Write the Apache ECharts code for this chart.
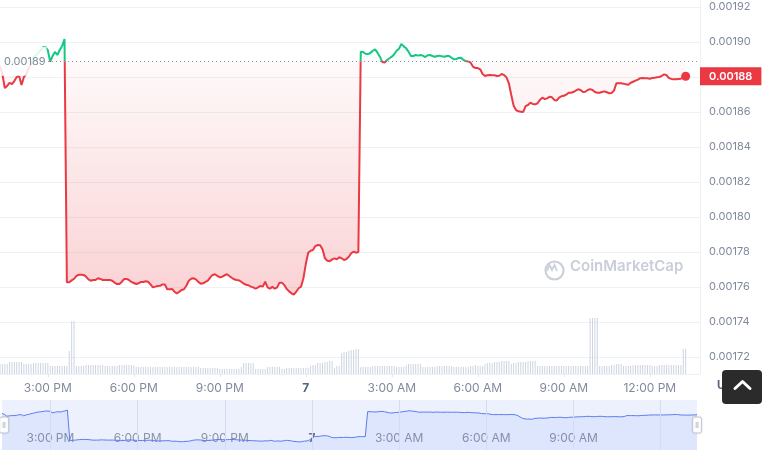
<!DOCTYPE html>
<html><head><meta charset="utf-8">
<script src="https://cdn.jsdelivr.net/npm/echarts@6/dist/echarts.min.js"></script>
<style>html,body{margin:0;padding:0;background:#fff}#c{width:762px;height:450px}</style>
</head><body><div id="c"></div>
<script>
// ---- data ----
const START = new Date(2023, 5, 6, 13, 20).getTime();   // first 5-minute sample
const STEP_MS = 5 * 60 * 1000;
const AXIS_END = new Date(2023, 5, 7, 13, 45).getTime(); // right end of main time axis
const OPEN_PRICE = 0.001889;                             // reference (dotted) price
const priceTicks = { min: 0.00172, max: 0.00192, step: 0.00002 };
// time-axis ticks: [day of month, hour]
const timeTicks = [[6, 15], [6, 18], [6, 21], [7, 0], [7, 3], [7, 6], [7, 9], [7, 12]];

const prices = [
0.0018863,0.0018817,0.0018737,0.0018749,0.0018766,0.0018760,0.0018777,0.0018800,0.0018806,0.0018754,0.0018800,0.0018817,
0.0018851,0.0018874,0.0018909,0.0018926,0.0018937,0.0018954,0.0018971,0.0018971,0.0018954,0.0018888,0.0018920,0.0018943,
0.0018926,0.0018954,0.0018977,0.0019017,0.0017627,0.0017627,0.0017638,0.0017647,0.0017663,0.0017670,0.0017670,0.0017669,
0.0017659,0.0017644,0.0017636,0.0017640,0.0017640,0.0017650,0.0017646,0.0017640,0.0017640,0.0017640,0.0017640,0.0017636,
0.0017625,0.0017617,0.0017617,0.0017630,0.0017646,0.0017646,0.0017640,0.0017629,0.0017623,0.0017617,0.0017621,0.0017629,
0.0017629,0.0017633,0.0017630,0.0017615,0.0017598,0.0017602,0.0017606,0.0017607,0.0017615,0.0017615,0.0017587,0.0017587,
0.0017589,0.0017573,0.0017564,0.0017572,0.0017583,0.0017587,0.0017607,0.0017636,0.0017647,0.0017650,0.0017644,0.0017629,
0.0017619,0.0017621,0.0017629,0.0017636,0.0017655,0.0017669,0.0017673,0.0017663,0.0017655,0.0017659,0.0017667,0.0017673,
0.0017663,0.0017653,0.0017644,0.0017640,0.0017638,0.0017630,0.0017619,0.0017613,0.0017610,0.0017602,0.0017598,0.0017590,
0.0017598,0.0017606,0.0017602,0.0017630,0.0017598,0.0017590,0.0017602,0.0017590,0.0017598,0.0017625,0.0017625,0.0017611,
0.0017589,0.0017575,0.0017564,0.0017556,0.0017573,0.0017593,0.0017602,0.0017650,0.0017731,0.0017796,0.0017807,0.0017811,
0.0017834,0.0017840,0.0017838,0.0017815,0.0017764,0.0017750,0.0017747,0.0017758,0.0017764,0.0017758,0.0017770,0.0017764,
0.0017754,0.0017760,0.0017773,0.0017793,0.0017802,0.0017796,0.0017800,0.0018945,0.0018943,0.0018933,0.0018931,0.0018937,
0.0018950,0.0018958,0.0018939,0.0018916,0.0018886,0.0018883,0.0018897,0.0018907,0.0018916,0.0018930,0.0018950,0.0018962,
0.0018989,0.0018975,0.0018964,0.0018945,0.0018920,0.0018920,0.0018926,0.0018922,0.0018926,0.0018922,0.0018914,0.0018924,
0.0018926,0.0018920,0.0018916,0.0018920,0.0018922,0.0018918,0.0018916,0.0018920,0.0018920,0.0018910,0.0018901,0.0018903,
0.0018909,0.0018910,0.0018897,0.0018892,0.0018889,0.0018882,0.0018859,0.0018851,0.0018851,0.0018844,0.0018817,0.0018806,
0.0018810,0.0018811,0.0018810,0.0018810,0.0018806,0.0018807,0.0018817,0.0018811,0.0018798,0.0018764,0.0018697,0.0018636,
0.0018611,0.0018604,0.0018602,0.0018600,0.0018634,0.0018640,0.0018653,0.0018646,0.0018644,0.0018650,0.0018669,0.0018682,
0.0018674,0.0018678,0.0018687,0.0018684,0.0018669,0.0018665,0.0018682,0.0018690,0.0018693,0.0018699,0.0018710,0.0018710,
0.0018714,0.0018722,0.0018730,0.0018726,0.0018714,0.0018716,0.0018726,0.0018731,0.0018726,0.0018714,0.0018710,0.0018710,
0.0018714,0.0018718,0.0018713,0.0018707,0.0018709,0.0018722,0.0018764,0.0018764,0.0018764,0.0018762,0.0018758,0.0018756,
0.0018767,0.0018773,0.0018779,0.0018785,0.0018793,0.0018794,0.0018793,0.0018793,0.0018790,0.0018794,0.0018796,0.0018798,
0.0018800,0.0018807,0.0018815,0.0018810,0.0018794,0.0018789,0.0018787,0.0018787,0.0018789,0.0018790,0.0018798,0.0018804
];

// volume per 5-minute bar (relative units)
const volumes = [
10,10,10,10,12,12,12,12,12,12,10,10,
10,10,11,11,11,11,11,11,11,8,8,8,
8,8,8,8,8,23,53,53,8,8,8,8,
9,9,9,9,9,9,9,9,8,8,8,8,
8,8,9,9,9,9,9,9,9,7,7,7,
7,7,7,7,7,7,7,7,7,7,7,7,
7,7,7,7,7,7,7,7,7,7,7,7,
6,6,6,6,6,6,6,6,5,5,5,5,
5,5,5,5,5,7,11,11,11,11,11,5,
5,5,5,5,7,7,7,7,7,7,5,5,
6,6,6,6,6,6,6,6,6,6,8,9,
9,11,11,11,12,12,13,13,6,8,8,21,
22,22,23,24,24,25,25,7,7,7,7,7,
8,8,8,8,8,8,8,8,8,8,7,7,
7,7,9,10,10,10,10,10,10,7,7,7,
7,7,7,8,8,8,8,8,8,8,7,7,
7,7,7,7,7,8,8,9,8,8,8,10,
11,11,11,12,12,12,13,13,13,13,10,11,
11,12,12,12,12,13,13,13,13,8,8,8,
8,8,8,8,8,8,8,8,8,8,8,8,
8,8,8,8,8,8,8,56,56,56,56,8,
8,8,8,8,9,9,10,10,10,8,8,8,
8,9,9,9,9,9,9,9,9,8,8,8,
9,9,9,9,9,9,9,9,9,9,25,25
];

// ---- build ----
const GREEN = '#16c784', RED = '#ea3943', LABEL = '#808a9d', GRIDC = '#eff2f5';
const times = prices.map((_, i) => START + i * STEP_MS);
const priceData = prices.map((p, i) => [times[i], p]);
const volData = volumes.map((v, i) => [times[i], v]);
const lastT = times[times.length - 1];
const lastP = prices[prices.length - 1];
const maxP = Math.max(...prices), minP = Math.min(...prices);
const baseFrac = (maxP - OPEN_PRICE) / (maxP - minP);
const tickValues = timeTicks.map(([d, h]) => new Date(2023, 5, d, h, 0).getTime());
const navLabelValues = tickValues.filter(t => lastT - t > 2 * 3600 * 1000);

function fmtTime(v) {
  const d = new Date(v); const h = d.getHours(), m = d.getMinutes();
  if (h === 0 && m === 0) return '{day|' + d.getDate() + '}';
  const h12 = h % 12 === 0 ? 12 : h % 12;
  return h12 + ':' + String(m).padStart(2, '0') + ' ' + (h < 12 ? 'AM' : 'PM');
}

const chart = echarts.init(document.getElementById('c'), null, { renderer: 'canvas' });
chart.setOption({
  animation: false,
  textStyle: { fontFamily: 'Inter, "Noto Sans", sans-serif' },
  grid: [
    { left: 0, right: 62, top: 7, height: 350 },
    { left: 0, right: 62, top: 0, height: 374 },
    { left: 2, right: 65, top: 400, height: 50, show: true, backgroundColor: '#edf1fd', borderWidth: 0 }
  ],
  xAxis: [
    { gridIndex: 0, type: 'value', min: START, max: AXIS_END, show: false },
    { gridIndex: 1, type: 'value', min: START, max: AXIS_END,
      axisLine: { lineStyle: { color: GRIDC } },
      axisTick: { show: true, length: 3, customValues: tickValues, lineStyle: { color: '#e3e6ec' } },
      splitLine: { show: false },
      axisLabel: { color: LABEL, fontSize: 12, margin: 8, formatter: fmtTime, customValues: tickValues,
        rich: { day: { fontWeight: 700, color: '#58667e', fontSize: 12 } } } },
    { gridIndex: 2, type: 'value', min: START, max: lastT,
      axisLine: { show: false }, axisTick: { show: false }, splitLine: { show: false },
      axisLabel: { inside: true, margin: 6, color: '#8b93a7', fontSize: 12, customValues: navLabelValues,
        formatter: fmtTime, rich: { day: { fontWeight: 700, color: '#6b7488', fontSize: 12 } } } }
  ],
  yAxis: [
    { gridIndex: 0, type: 'value', position: 'right', min: priceTicks.min, max: priceTicks.max, interval: priceTicks.step,
      axisLine: { show: false }, axisTick: { show: false },
      splitLine: { lineStyle: { color: GRIDC } },
      axisLabel: { color: LABEL, fontSize: 11, margin: 9, formatter: v => v.toFixed(5) } },
    { gridIndex: 1, type: 'value', position: 'right', min: 0, max: 374,
      axisLine: { show: true, lineStyle: { color: GRIDC } }, axisTick: { show: false },
      axisLabel: { show: false }, splitLine: { show: false } },
    { gridIndex: 2, type: 'value', min: 0.0017185, max: 0.0019479, show: false }
  ],
  visualMap: {
    type: 'piecewise', show: false, seriesIndex: 0, dimension: 1,
    pieces: [{ gt: OPEN_PRICE, lte: 0.01, color: GREEN }, { gte: 0, lte: OPEN_PRICE, color: RED }]
  },
  dataZoom: [{
    type: 'slider', xAxisIndex: 2, filterMode: 'none', start: 0, end: 100,
    left: 2, right: 65, top: 400, height: 50,
    backgroundColor: 'transparent', borderColor: 'transparent', fillerColor: 'transparent',
    showDetail: false, showDataShadow: false, brushSelect: false, moveHandleSize: 0,
    dataBackground: { lineStyle: { opacity: 0 }, areaStyle: { opacity: 0 } },
    selectedDataBackground: { lineStyle: { opacity: 0 }, areaStyle: { opacity: 0 } },
    handleIcon: 'path://M2,0h5a2,2,0,0,1,2,2v12a2,2,0,0,1-2,2h-5a2,2,0,0,1-2-2v-12a2,2,0,0,1,2-2Z M3.7,5v6 M5.3,5v6',
    handleSize: '32%',
    handleStyle: { color: '#fff', borderColor: '#c3c9d6', borderWidth: 1, shadowBlur: 2, shadowColor: 'rgba(0,0,0,0.12)' },
    emphasis: { handleStyle: { color: '#fff', borderColor: '#c3c9d6' } }
  }],
  series: [
    { type: 'line', xAxisIndex: 0, yAxisIndex: 0, data: priceData, showSymbol: false, z: 3,
      lineStyle: { width: 2 },
      areaStyle: { origin: OPEN_PRICE, color: new echarts.graphic.LinearGradient(0, 0, 0, 1, [
        { offset: 0, color: 'rgba(22,199,132,0.12)' },
        { offset: baseFrac, color: 'rgba(22,199,132,0.02)' },
        { offset: baseFrac, color: 'rgba(234,57,67,0.04)' },
        { offset: 1, color: 'rgba(234,57,67,0.32)' }
      ]) },
      markLine: { silent: true, symbol: ['none', 'none'], animation: false, precision: 8,
        data: [
          { yAxis: OPEN_PRICE, lineStyle: { color: '#8f96a6', type: [1, 3], width: 1 },
            label: { show: true, position: 'insideStartTop', distance: 0, verticalAlign: 'middle',
              formatter: OPEN_PRICE.toFixed(5), color: LABEL, fontSize: 11,
              backgroundColor: 'rgba(255,255,255,0.85)', padding: [9, 1, 9, 4] } },
          { yAxis: lastP, lineStyle: { color: 'rgba(0,0,0,0)', width: 0 },
            label: { show: true, position: 'end', distance: 0, formatter: lastP.toFixed(5), opacity: 1,
              color: '#fff', fontSize: 11, fontWeight: 600, backgroundColor: RED, padding: [4, 9, 3, 9] } }
        ] },
      markPoint: { animation: false, silent: true,
        data: [{ coord: [lastT, lastP], symbol: 'circle', symbolSize: 9, itemStyle: { color: RED }, label: { show: false } }] } },
    { type: 'bar', xAxisIndex: 1, yAxisIndex: 1, data: volData, barWidth: 1, z: 1,
      itemStyle: { color: '#cdd4e2' }, silent: true },
    { type: 'line', xAxisIndex: 2, yAxisIndex: 2, data: priceData, showSymbol: false, silent: true,
      lineStyle: { color: '#5a7cf0', width: 1 },
      areaStyle: { color: 'rgba(56,97,251,0.11)', origin: 'start' },
      markLine: { silent: true, symbol: ['none', 'none'], animation: false, label: { show: false }, precision: 0,
        lineStyle: { color: '#d4dcf4', type: 'solid', width: 1 },
        data: tickValues.map(t => ({ xAxis: t })) } }
  ],
  graphic: [
    { type: 'circle', left: 543, top: 259, shape: { r: 9 }, style: { fill: 'none', stroke: '#cbd0d9', lineWidth: 2.2 }, silent: true },
    { type: 'polyline', shape: { points: [[547, 271], [549.5, 265], [552, 270], [554.5, 265], [557, 271]] },
      style: { fill: 'none', stroke: '#cbd0d9', lineWidth: 1.8 }, silent: true },
    { type: 'text', left: 570, top: 259, style: { text: 'CoinMarketCap', fontSize: 15, fontWeight: 600, fill: '#c9ced8',
      fontFamily: 'Inter, sans-serif' }, silent: true },
    { type: 'text', left: 717, top: 380, style: { text: 'USD', fontSize: 12, fontWeight: 700, fill: '#58667e' }, silent: true },
    { type: 'rect', shape: { x: 722, y: 370, width: 40, height: 34, r: 4 }, style: { fill: '#2b2b2b' }, z: 100, silent: true },
    { type: 'polyline', shape: { points: [[735, 388.5], [742.5, 381.5], [750, 388.5]] },
      style: { fill: 'none', stroke: '#fff', lineWidth: 3, lineCap: 'round', lineJoin: 'round' }, z: 101, silent: true }
  ]
});
</script>
</body></html>
